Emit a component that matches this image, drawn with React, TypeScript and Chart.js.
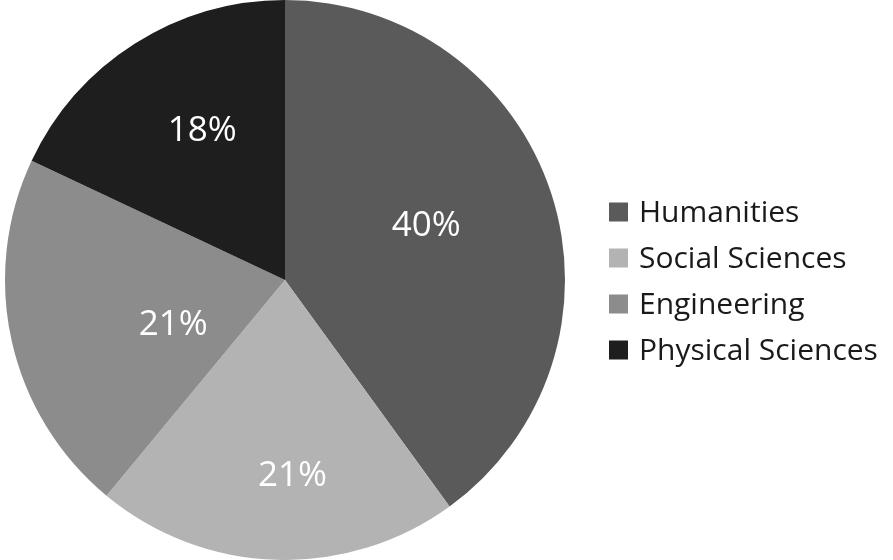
import React, { useEffect, useRef } from "react";
import { Chart, registerables } from "chart.js";

Chart.register(...registerables);

const categories = ["Humanities", "Social Sciences", "Engineering", "Physical Sciences"];
const shares = [40, 21, 21, 18];
const sliceColors = ["#5a5a5a", "#b3b3b3", "#8c8c8c", "#1e1e1e"];
const labelRadialFraction = [0.54, 0.7, 0.43, 0.61];
const labelAngleShift = [-0.05, -0.07, -0.16, 0.06];

const FONT = "'Open Sans', 'Noto Sans', sans-serif";

const sliceLabelPlugin = {
  id: "sliceLabels",
  afterDatasetsDraw(chart: any) {
    const ctx = chart.ctx;
    const meta = chart.getDatasetMeta(0);
    ctx.save();
    ctx.font = `35px ${FONT}`;
    ctx.fillStyle = "#ffffff";
    ctx.textAlign = "center";
    ctx.textBaseline = "middle";
    meta.data.forEach((arc: any, i: number) => {
      const p = arc.getProps(["startAngle", "endAngle", "outerRadius", "x", "y"], true);
      const mid = (p.startAngle + p.endAngle) / 2 + labelAngleShift[i];
      const r = p.outerRadius * labelRadialFraction[i];
      ctx.fillText(`${shares[i]}%`, p.x + Math.cos(mid) * r, p.y + Math.sin(mid) * r);
    });
    ctx.restore();
  },
};

const sideLegendPlugin = {
  id: "sideLegend",
  afterDraw(chart: any) {
    const ctx = chart.ctx;
    const labels: string[] = chart.data.labels;
    const colors: string[] = chart.data.datasets[0].backgroundColor;
    const boxX = 609;
    const box = 19;
    const firstY = 212;
    const step = 46;
    ctx.save();
    ctx.font = `30px ${FONT}`;
    ctx.textBaseline = "middle";
    ctx.textAlign = "left";
    labels.forEach((lab, i) => {
      const cy = firstY + i * step;
      ctx.fillStyle = colors[i];
      ctx.fillRect(boxX, cy - box / 2, box, box);
      ctx.fillStyle = "#1a1a1a";
      ctx.fillText(lab, boxX + box + 11, cy + 1);
    });
    ctx.restore();
  },
};

export default function App() {
  const ref = useRef<HTMLCanvasElement | null>(null);
  useEffect(() => {
    document.body.style.margin = "0";
    const chart = new Chart(ref.current as HTMLCanvasElement, {
      type: "pie",
      data: {
        labels: categories,
        datasets: [
          {
            data: shares,
            backgroundColor: sliceColors,
            borderWidth: 0,
          },
        ],
      },
      options: {
        animation: false,
        responsive: false,
        maintainAspectRatio: false,
        layout: { padding: { left: 5, right: 328, top: 0, bottom: 0 } },
        plugins: {
          tooltip: { enabled: false },
          legend: { display: false },
        },
      },
      plugins: [sliceLabelPlugin, sideLegendPlugin],
    });
    return () => chart.destroy();
  }, []);
  return (
    <div style={{ width: 893, height: 560, background: "#fff" }}>
      <canvas ref={ref} width={893} height={560} />
    </div>
  );
}
